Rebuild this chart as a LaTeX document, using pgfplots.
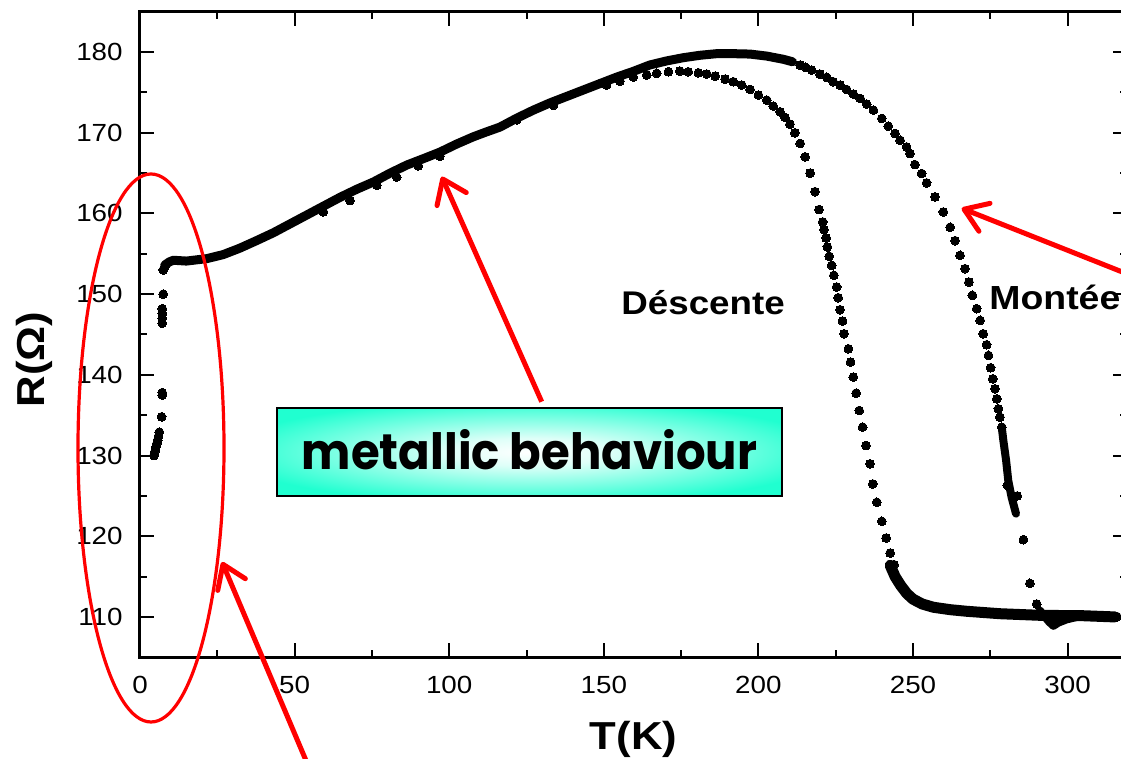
\documentclass[border=0pt]{standalone}
\usepackage{fontspec}
\setmainfont{Liberation Sans}[FakeStretch=1.12]
\newfontfamily\boxfont{Poppins}
\usepackage{pgfplots}
\usepackage{pgfplotstable}
\pgfplotsset{compat=1.18}
\usetikzlibrary{arrows.meta}

\definecolor{aquaglow}{RGB}{32,255,208}
\pgfdeclareradialshading{glow}{\pgfpoint{0bp}{0bp}}{%
  color(0bp)=(white); color(8bp)=(white!85!aquaglow);
  color(30bp)=(aquaglow); color(50bp)=(aquaglow)}

% part of the curve shared by cooling and warming (dense, drawn as a band)
\pgfplotstableread{
T R
8.0 153.6
9.5 154.0
10.8 154.2
15.0 154.1
21.6 154.4
26.9 154.9
32.3 155.7
37.5 156.6
43.1 157.6
48.5 158.7
53.9 159.8
59.3 160.9
64.7 162.0
70.1 163.0
75.5 163.9
80.9 165.0
86.3 166.0
91.7 166.8
97.0 167.6
102.4 168.6
107.8 169.5
112.0 170.1
116.4 170.7
121.8 171.8
127.2 172.8
132.6 173.7
138.0 174.5
143.4 175.3
148.8 176.1
}\common

% scattered points on the shared curve and at low temperature
\pgfplotstableread{
T R
4.5 130.0
4.8 130.5
5.1 131.0
5.4 131.45
5.7 131.9
6.0 132.4
6.25 132.9
7.0 134.8
7.2 137.5
7.2 137.8
7.2 146.4
7.2 147.0
7.2 147.6
7.2 148.2
7.5 150.0
7.5 153.0
8.0 153.4
59.3 160.2
67.9 161.6
76.6 163.5
83.0 164.5
90.0 165.9
97.0 167.1
121.8 171.6
133.7 173.4
}\lowpts

% cooling branch (Descente): separate points
\pgfplotstableread{
T R
150.9 175.9
155.2 176.4
159.5 176.9
163.9 177.15
167.1 177.36
170.9 177.56
174.6 177.64
177.3 177.56
180.6 177.43
183.3 177.27
186.0 177.02
189.2 176.65
191.9 176.32
194.6 175.91
197.3 175.37
200.0 174.67
202.7 174.04
204.8 173.30
207.0 172.60
208.6 171.90
210.2 171.07
211.8 169.99
213.5 168.67
215.1 167.01
216.7 165.0
218.3 162.7
219.6 160.48
220.8 158.95
221.2 158.00
221.9 156.96
222.3 155.85
222.9 154.69
223.7 153.57
224.4 152.33
225.3 150.89
225.8 149.56
226.4 148.07
227.2 146.67
227.7 145.09
229.1 143.23
229.8 141.58
230.7 139.72
231.6 137.73
232.6 135.58
233.7 133.52
234.8 131.24
236.1 128.97
237.0 126.48
238.3 124.21
239.9 121.85
241.3 119.78
242.6 117.92
243.9 116.48
315.8 110.0
}\descpts

% cooling branch: dense low plateau
\pgfplotstableread{
T R
242.6 116.4
244.2 115.0
246.0 113.9
248.0 112.9
250.0 112.2
253.0 111.6
256.6 111.2
262.0 110.9
267.4 110.7
278.1 110.4
291.1 110.2
305.1 110.15
315.3 110.0
}\descflat

% warming branch (Montee): dense upper part
\pgfplotstableread{
T R
148.8 176.1
154.2 176.9
159.5 177.6
164.9 178.4
170.3 178.9
175.7 179.3
181.1 179.6
186.5 179.8
191.9 179.8
197.3 179.75
202.7 179.5
208.1 179.1
211.0 178.8
}\montop

% warming branch: separate points
\pgfplotstableread{
T R
213.45 178.39
215.3 178.1
217.2 177.77
219.9 177.27
222.1 176.86
224.2 176.32
226.4 175.91
228.5 175.37
230.7 174.79
232.9 174.25
235.0 173.55
237.2 172.80
239.9 171.77
242.0 170.82
244.2 169.91
245.8 169.08
247.9 168.25
249.0 167.43
250.6 166.06
252.8 164.95
254.4 163.79
257.1 162.05
259.8 160.19
262.0 158.29
263.6 156.63
265.2 154.81
266.8 153.16
268.1 151.50
269.2 149.85
270.6 148.20
271.7 146.75
272.7 145.09
273.8 143.73
274.4 142.41
275.1 140.88
275.8 139.51
276.5 138.27
277.1 137.03
277.6 135.79
278.1 134.76
278.7 133.52
280.5 126.3
283.7 125.0
285.7 119.58
287.8 114.16
290.0 111.60
}\monpts

% warming branch: dense parts near the transition and on the plateau
\pgfplotstableread{
T R
278.7 133.5
279.2 131.9
280.1 129.4
280.8 126.9
281.9 124.8
283.3 122.8
}\monsteep

\pgfplotstableread{
T R
291.0 110.8
292.5 110.1
294.0 109.4
295.4 108.9
297.0 109.3
299.7 109.7
303.0 110.0
308.0 110.1
316.0 110.1
}\monflat

\begin{document}
\begin{tikzpicture}
% picture frame: the right edge of the plot box lies just outside it
\useasboundingbox (-70pt,-50.85pt) rectangle (490.5pt,328.65pt);
\clip (-70pt,-50.85pt) rectangle (490.5pt,328.65pt);
\begin{axis}[
  at={(0,0)}, anchor=south west,
  scale only axis,
  width=493.5pt, height=322.8pt,
  xmin=0, xmax=319.2,
  ymin=105, ymax=185,
  xtick={0,50,...,300},
  ytick={110,120,...,180},
  minor tick num=1,
  tick align=inside,
  major tick length=7pt,
  minor tick length=3.5pt,
  tick style={black, line width=1pt},
  axis line style={black, line width=1.5pt},
  /pgf/number format/assume math mode=true,
  tick label style={font=\fontsize{12.4}{14}\selectfont, inner sep=0pt},
  xticklabel style={anchor=base, yshift=-17.9pt},
  yticklabel style={anchor=east, xshift=-8.5pt},
  xlabel={T(K)},
  ylabel={R(Ω)},
  label style={font=\fontsize{19.5}{22}\selectfont\bfseries},
  xlabel style={at={(axis description cs:0.5,-0.1436)}, anchor=base},
  ylabel style={at={(axis description cs:-0.0963,0.461)}, anchor=base, rotate=0},
  dense/.style={black, line width=4.5pt, line cap=round, line join=round, mark=none},
  dots/.style={only marks, mark=*, mark size=2.2pt,
               mark options={fill=black, draw=black, line width=0pt}},
]
\addplot[dense] table[x=T, y=R] {\common};
\addplot[dense] table[x=T, y=R] {\montop};
\addplot[dense, line width=4pt] table[x=T, y=R] {\monsteep};
\addplot[dense, line width=5.5pt] table[x=T, y=R] {\descflat};
\addplot[dense, line width=4pt] table[x=T, y=R] {\monflat};
\addplot[dots] table[x=T, y=R] {\lowpts};
\addplot[dots] table[x=T, y=R] {\descpts};
\addplot[dots] table[x=T, y=R] {\monpts};
\end{axis}

% annotations, placed in pixel-like units from the top-left corner
\begin{scope}[x=0.5pt,y=-0.5pt,shift={(-140,-657.3)}]
  \node[anchor=base west, inner sep=0pt, font=\fontsize{16.4}{18}\selectfont\bfseries]
    at (621,315) {Déscente};
  \node[anchor=base west, inner sep=0pt, font=\fontsize{16.7}{18}\selectfont\bfseries]
    at (989,310) {Montée};
  \draw[black, line width=1pt, shading=glow] (277,408) rectangle (782,496);
  \node[anchor=base, inner sep=0pt] at (529.5,470)
    {\resizebox{227.5pt}{20pt}{\boxfont\bfseries metallic behaviour}};
  \draw[red, line width=1.6pt] (151,448) ellipse [x radius=73, y radius=274];
  \draw[red, line width=2.5pt, -{Straight Barb[length=11pt,width=16pt,round]}]
    (541.7,401.7) -- (441.7,176.7);
  \draw[red, line width=2.5pt, -{Straight Barb[length=11pt,width=15pt,round]}]
    (1140,279) -- (961.7,208.3);
  \draw[red, line width=2.5pt, -{Straight Barb[length=11pt,width=15pt,round]}]
    (310,770) -- (222,562);
\end{scope}
\end{tikzpicture}
\end{document}
